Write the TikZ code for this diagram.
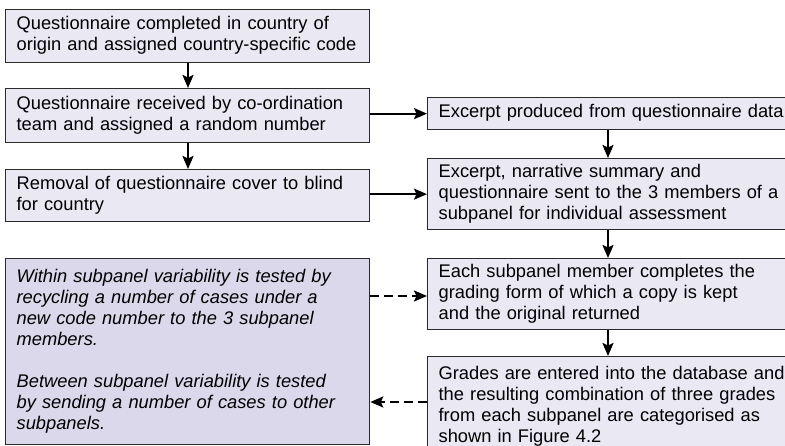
\documentclass[tikz,border=0pt]{standalone}
\usepackage{fontspec}
\setmainfont{Liberation Sans}
\usetikzlibrary{arrows.meta}
\definecolor{boxfill}{HTML}{EAE8F2}
\definecolor{notefill}{HTML}{DAD8EA}
\definecolor{boxline}{HTML}{2A2A2A}
\begin{document}
\begin{tikzpicture}[x=1pt,y=-1pt,
  stepbox/.style={draw=boxline, line width=1.3pt, fill=boxfill, anchor=north west,
    align=left, inner xsep=11pt, inner ysep=4pt,
    font=\fontsize{18.3}{21}\selectfont,
    execute at begin node=\strut, execute at end node=\strut},
  leftbox/.style={stepbox, text width=342pt, minimum width=364pt},
  rightbox/.style={stepbox, text width=378pt, minimum width=400pt},
  notebox/.style={leftbox, fill=notefill, font=\fontsize{18.3}{21}\selectfont\itshape},
  flow/.style={line width=2.1pt, -{Stealth[length=13pt,width=11pt,inset=2.5pt]}},
  dflow/.style={flow, dash pattern=on 9pt off 5pt}
]
\useasboundingbox (0,0) rectangle (785,446);
\fill[white] (0,0) rectangle (785,446);

\node[leftbox, minimum height=53pt] (b1) at (5,9)
  {Questionnaire completed in country of\\origin and assigned country-specific code};
\node[leftbox, minimum height=54pt] (b2) at (5,88)
  {Questionnaire received by co-ordination\\team and assigned a random number};
\node[leftbox, minimum height=52pt] (b3) at (5,169)
  {Removal of questionnaire cover to blind\\for country};
\node[notebox, minimum height=186pt] (note) at (5,258)
  {Within subpanel variability is tested by\\recycling a number of cases under a\\new code number to the 3 subpanel\\members.\\[21pt]Between subpanel variability is tested\\by sending a number of cases to other\\subpanels.};

\node[rightbox, minimum height=32pt] (ra) at (427,97)
  {Excerpt produced from questionnaire data};
\node[rightbox, minimum height=71pt] (rb) at (427,158)
  {Excerpt, narrative summary and\\questionnaire sent to the 3 members of a\\subpanel for individual assessment};
\node[rightbox, minimum height=70pt] (rc) at (427,258)
  {Each subpanel member completes the\\grading form of which a copy is kept\\and the original returned};
\node[rightbox, minimum height=101pt] (rd) at (427,356)
  {Grades are entered into the database and\\the resulting combination of three grades\\from each subpanel are categorised as\\shown in Figure 4.2};

\coordinate (lx) at (188,0);
\coordinate (rx) at (608,0);
\draw[flow] (b1.south -| lx) -- (b2.north -| lx);
\draw[flow] (b2.south -| lx) -- (b3.north -| lx);
\draw[flow] (ra.south -| rx) -- (rb.north -| rx);
\draw[flow] (rb.south -| rx) -- (rc.north -| rx);
\draw[flow] (rc.south -| rx) -- (rd.north -| rx);

\draw[flow] (ra.west -| b2.east) -- (ra.west);
\draw[flow] (rb.west -| b3.east) -- (rb.west);

\coordinate (dy1) at (0,296);
\coordinate (dy2) at (0,402);
\draw[dflow] (dy1 -| note.east) -- (dy1 -| rc.west);
\draw[dflow] (dy2 -| rd.west) -- (dy2 -| note.east);
\end{tikzpicture}
\end{document}
